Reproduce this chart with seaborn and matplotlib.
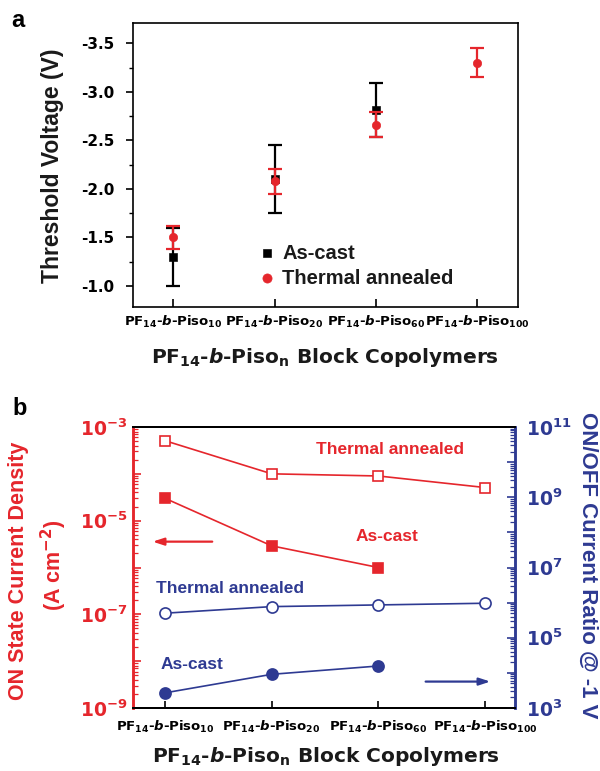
import numpy as np
import pandas as pd
import matplotlib
matplotlib.use("Agg")
import matplotlib.pyplot as plt
import seaborn as sns
from matplotlib.ticker import FixedLocator, NullFormatter
from matplotlib.font_manager import FontProperties

# ---------------- data ----------------
categories = ["10", "20", "60", "100"]
tick_labels = [r"PF$_{14}$-$\it{b}$-Piso$_{10}$",
               r"PF$_{14}$-$\it{b}$-Piso$_{20}$",
               r"PF$_{14}$-$\it{b}$-Piso$_{60}$",
               r"PF$_{14}$-$\it{b}$-Piso$_{100}$"]

# panel a: threshold voltage (V)
vth_ascast = [-1.30, -2.10, -2.81]
vth_ascast_err = [0.30, 0.35, 0.28]
vth_annealed = [-1.50, -2.08, -2.66, -3.30]
vth_annealed_err = [0.12, 0.13, 0.13, 0.15]
vth_ticks = [-1.0, -1.5, -2.0, -2.5, -3.0, -3.5]
vth_ticklabels = ["-1.0", "-1.5", "-2.0", "-2.5", "-3.0", "-3.5"]

# panel b: ON current density (A cm^-2) and ON/OFF ratio
jon_ascast = [3.0e-5, 2.9e-6, 1.0e-6]
jon_annealed = [5.1e-4, 1.0e-4, 9.0e-5, 5.1e-5]
ratio_ascast = [2.7e3, 9.1e3, 1.57e4]
ratio_annealed = [5.0e5, 7.7e5, 8.6e5, 9.6e5]

RED = "#e5262c"
BLUE = "#2e3a92"

sns.set_theme(style="ticks")
plt.rcParams["font.family"] = ["Liberation Sans", "DejaVu Sans"]
plt.rcParams["font.weight"] = "bold"
plt.rcParams["text.color"] = "black"
plt.rcParams["axes.labelcolor"] = "black"
plt.rcParams["xtick.color"] = "black"
plt.rcParams["ytick.color"] = "black"
plt.rcParams["mathtext.fontset"] = "custom"
plt.rcParams["mathtext.rm"] = "DejaVu Sans:bold"
plt.rcParams["mathtext.it"] = "DejaVu Sans:bold:italic"
plt.rcParams["mathtext.bf"] = "DejaVu Sans:bold"
plt.rcParams["mathtext.sf"] = "DejaVu Sans:bold"

W, H = 600, 771
fig = plt.figure(figsize=(W / 100, H / 100), dpi=100)
fig.patch.set_facecolor("white")

def fax(l, t, r, b):
    return fig.add_axes([l / W, 1 - b / H, (r - l) / W, (b - t) / H])

TICKFONT = dict(family="DejaVu Sans", weight="bold")
xpos = np.arange(len(categories))

# ---------------- panel a ----------------
axa = fax(132.7, 22.7, 517.7, 307)
df_ac = pd.DataFrame({"x": xpos[:3], "v": vth_ascast})
df_ta = pd.DataFrame({"x": xpos, "v": vth_annealed})

axa.errorbar(df_ac["x"], df_ac["v"], yerr=vth_ascast_err, fmt="none",
             ecolor="black", elinewidth=1.6, capsize=4.8, capthick=1.6, zorder=2)
sns.scatterplot(data=df_ac, x="x", y="v", ax=axa, marker="s", color="black",
                edgecolor="black", s=30, label="As-cast", zorder=3)
axa.errorbar(df_ta["x"], df_ta["v"], yerr=vth_annealed_err, fmt="none",
             ecolor=RED, elinewidth=1.6, capsize=4.8, capthick=1.6, zorder=4)
sns.scatterplot(data=df_ta, x="x", y="v", ax=axa, marker="o", color=RED,
                edgecolor=RED, s=36, label="Thermal annealed", zorder=5)

axa.set_xlim(-0.4, 3.4)
axa.set_ylim(-0.784, -3.712)
axa.set_xlabel("")
axa.set_ylabel("")
axa.set_yticks(vth_ticks)
axa.set_yticklabels(vth_ticklabels, fontsize=11, color="black", **TICKFONT)
axa.yaxis.set_minor_locator(FixedLocator(np.arange(-0.75, -3.8, -0.25)))
axa.set_xticks(xpos)
axa.set_xticklabels(tick_labels, fontsize=9.5, color="black", **TICKFONT)
axa.tick_params(axis="y", which="major", direction="out", length=5, width=1.2, pad=8, colors="black")
axa.tick_params(axis="y", which="minor", direction="out", length=3, width=1.0, colors="black")
axa.tick_params(axis="x", which="major", direction="in", length=6, width=1.2, pad=5, colors="black")
for s in axa.spines.values():
    s.set_visible(True)
    s.set_linewidth(1.2)
    s.set_color("black")

leg = axa.legend(loc="lower left", bbox_to_anchor=(0.328, 0.068), frameon=False,
                 prop=FontProperties(family="Liberation Sans", weight="bold", size=14.5),
                 handlelength=0.8, handletextpad=0.35, borderpad=0, borderaxespad=0,
                 labelspacing=0.3, markerscale=1.1)
for t in leg.get_texts():
    t.set_color("#1a1a1a")

fig.text(53 / W, 1 - 166 / H, "Threshold Voltage (V)", rotation=90, ha="center",
         va="center", fontsize=16.5, fontweight="bold", family="Liberation Sans", color="#1a1a1a")
fig.text(325 / W, 1 - 363 / H, r"PF$_{14}$-$\it{b}$-Piso$_{\mathrm{n}}$ Block Copolymers",
         ha="center", va="baseline", fontsize=14.5, color="#1a1a1a", **TICKFONT)
fig.text(11 / W, 1 - 27 / H, "a", ha="left", va="baseline", fontsize=17,
         fontweight="bold", family="Liberation Sans", color="black")

# ---------------- panel b ----------------
axb = fax(132.7, 427, 514.5, 708)
axr = axb.twinx()

sns.lineplot(x=xpos, y=jon_annealed, ax=axb, color=RED, linewidth=1.2,
             marker="s", markersize=7.5, markerfacecolor="white",
             markeredgecolor=RED, markeredgewidth=1.2, zorder=3)
sns.lineplot(x=xpos[:3], y=jon_ascast, ax=axb, color=RED, linewidth=1.2,
             marker="s", markersize=7.5, markerfacecolor=RED,
             markeredgecolor=RED, markeredgewidth=1.2, zorder=3)
sns.lineplot(x=xpos, y=ratio_annealed, ax=axr, color=BLUE, linewidth=1.2,
             marker="o", markersize=8, markerfacecolor="white",
             markeredgecolor=BLUE, markeredgewidth=1.2, zorder=3)
sns.lineplot(x=xpos[:3], y=ratio_ascast, ax=axr, color=BLUE, linewidth=1.2,
             marker="o", markersize=8, markerfacecolor=BLUE,
             markeredgecolor=BLUE, markeredgewidth=1.2, zorder=3)

for ax in (axb, axr):
    ax.set_yscale("log")
    ax.set_xlabel("")
    ax.set_ylabel("")
    ax.set_xlim(-0.303, 3.276)

axb.set_ylim(1e-9, 1e-3)
axr.set_ylim(1e3, 1e11)

left_exps = list(range(-9, -2))
axb.yaxis.set_major_locator(FixedLocator([10.0 ** e for e in left_exps]))
axb.set_yticklabels([r"$\mathbf{10^{%d}}$" % e if e % 2 else "" for e in left_exps],
                    fontsize=13.5)
axb.yaxis.set_minor_locator(FixedLocator([m * 10.0 ** e for e in left_exps[:-1] for m in range(2, 10)]))
axb.yaxis.set_minor_formatter(NullFormatter())

right_exps = list(range(3, 12))
axr.yaxis.set_major_locator(FixedLocator([10.0 ** e for e in right_exps]))
axr.set_yticklabels([r"$\mathbf{10^{%d}}$" % e if e % 2 else "" for e in right_exps],
                    fontsize=13.5)
axr.yaxis.set_minor_locator(FixedLocator([m * 10.0 ** e for e in right_exps[:-1] for m in range(2, 10)]))
axr.yaxis.set_minor_formatter(NullFormatter())

axb.set_xticks(xpos)
axb.set_xticklabels(tick_labels, fontsize=9.5, color="black", **TICKFONT)
axb.tick_params(axis="x", which="major", direction="in", length=5, width=1.2, pad=8, colors="black")
axb.tick_params(axis="y", which="major", direction="in", length=6, width=1.2, pad=4,
                color=RED, labelcolor=RED)
axb.tick_params(axis="y", which="minor", direction="in", length=3.5, width=0.9, color=RED)
axr.tick_params(axis="y", which="major", direction="in", length=6, width=1.2, pad=8,
                color=BLUE, labelcolor=BLUE)
axr.tick_params(axis="y", which="minor", direction="in", length=3.5, width=0.9, color=BLUE)

for ax in (axb, axr):
    for s in ax.spines.values():
        s.set_visible(True)
        s.set_linewidth(1.4)
        s.set_color("black")
    ax.spines["left"].set_color(RED)
    ax.spines["right"].set_color(BLUE)
    ax.spines["left"].set_linewidth(1.8)
    ax.spines["right"].set_linewidth(1.8)

ANN = dict(family="Liberation Sans", weight="bold", fontsize=12.5, ha="center", va="baseline")
axr.text(0.674, 0.904, "Thermal annealed", color=RED, transform=axr.transAxes, **ANN)
axr.text(0.666, 0.595, "As-cast", color=RED, transform=axr.transAxes, **ANN)
axr.text(0.255, 0.409, "Thermal annealed", color=BLUE, transform=axr.transAxes, **ANN)
axr.text(0.155, 0.139, "As-cast", color=BLUE, transform=axr.transAxes, **ANN)

axr.annotate("", xy=(0.045, 0.592), xytext=(0.2156, 0.592), xycoords="axes fraction",
             textcoords="axes fraction",
             arrowprops=dict(arrowstyle="-|>,head_length=0.55,head_width=0.18", color=RED, lw=1.6))
axr.annotate("", xy=(0.944, 0.094), xytext=(0.760, 0.094), xycoords="axes fraction",
             textcoords="axes fraction",
             arrowprops=dict(arrowstyle="-|>,head_length=0.55,head_width=0.18", color=BLUE, lw=1.6))

fig.text(19 / W, 1 - 571 / H, "ON State Current Density", rotation=90, ha="center",
         va="center", fontsize=15.5, fontweight="bold", color=RED, family="Liberation Sans")
fig.text(54 / W, 1 - 565 / H, r"(A cm$^{\mathbf{-2}}$)", rotation=90, ha="center",
         va="center", fontsize=15.5, fontweight="bold", color=RED, family="Liberation Sans")
fig.text(588 / W, 1 - 565 / H, "ON/OFF Current Ratio @ -1 V", rotation=270, ha="center",
         va="center", fontsize=16, fontweight="bold", color=BLUE, family="Liberation Sans")
fig.text(326 / W, 1 - 762 / H, r"PF$_{14}$-$\it{b}$-Piso$_{\mathrm{n}}$ Block Copolymers",
         ha="center", va="baseline", fontsize=14.5, color="#1a1a1a", **TICKFONT)
fig.text(12 / W, 1 - 415 / H, "b", ha="left", va="baseline", fontsize=17,
         fontweight="bold", family="Liberation Sans", color="black")

fig.savefig("out.png", dpi=100, facecolor="white")
